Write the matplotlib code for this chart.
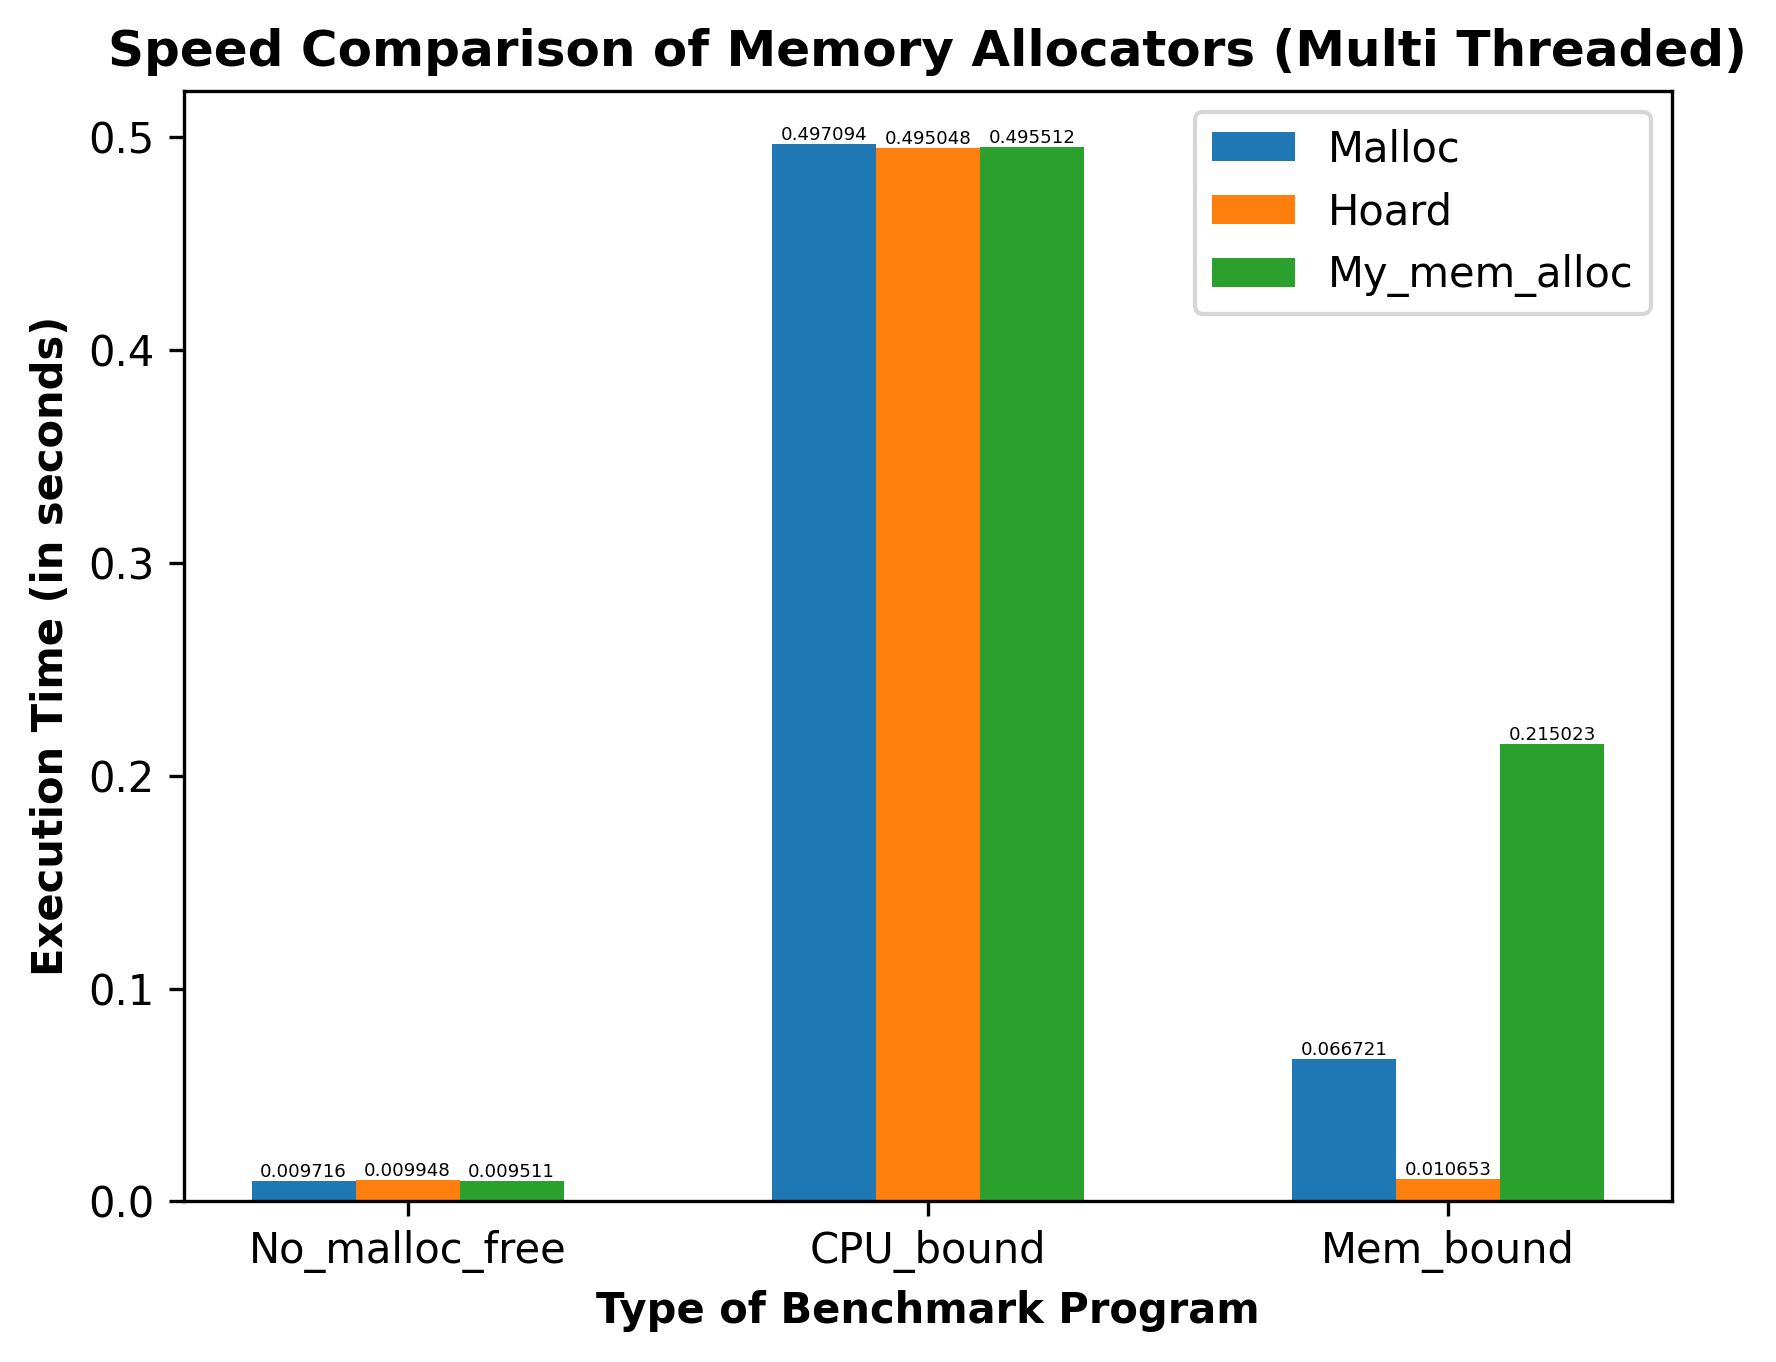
import matplotlib
matplotlib.use("Agg")
import matplotlib.pyplot as plt
import numpy as np

categories = ["No_malloc_free", "CPU_bound", "Mem_bound"]
malloc = [0.009716, 0.497094, 0.066721]
hoard = [0.009948, 0.495048, 0.010653]
my_mem = [0.009511, 0.495512, 0.215023]
series_names = ["Malloc", "Hoard", "My_mem_alloc"]
labels_text = [["0.009716", "0.497094", "0.066721"],
               ["0.009948", "0.495048", "0.010653"],
               ["0.009511", "0.495512", "0.215023"]]

fig = plt.figure(figsize=(1777/300, 1362/300), dpi=300)
left, right = 0.1035, 0.9407
ax = fig.add_axes([left, 0.118, right-left, 0.9334-0.118])
x = np.arange(len(categories))
w = 0.2
for i, (vals, name) in enumerate(zip([malloc, hoard, my_mem], series_names)):
    bars = ax.bar(x + (i-1)*w, vals, w, label=name)
    ax.bar_label(bars, labels=labels_text[i], fontsize=4.4)
ax.set_xticks(x)
ax.set_xticklabels(categories)
ax.set_xlabel("Type of Benchmark Program", fontweight="bold")
ax.set_ylabel("Execution Time (in seconds)", fontweight="bold")
ax.set_title("Speed Comparison of Memory Allocators (Multi Threaded)", fontweight="bold")
ax.legend()
fig.savefig("out.png", dpi=300)
